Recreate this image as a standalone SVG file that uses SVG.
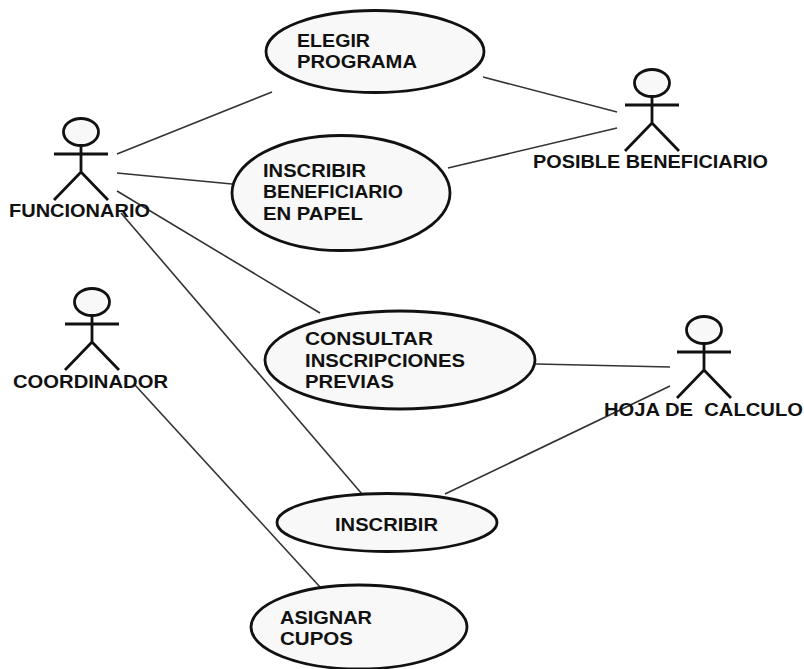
<svg xmlns="http://www.w3.org/2000/svg" width="804" height="669" viewBox="0 0 804 669">
<style>
.bg{fill:#fff}
.uc{fill:#f8f8f8;stroke:#111;stroke-width:2.8}
.c{stroke:#333;stroke-width:1.6;fill:none}
.a{fill:none;stroke:#111;stroke-width:2.8}
.h{fill:#f8f8f8;stroke:#111;stroke-width:2.8}
text{font-family:"Liberation Sans",Arial,sans-serif;font-weight:700;font-size:18.5px;fill:#111;white-space:pre}
</style>
<defs>
<g id="actor">
<ellipse class="h" cx="0" cy="0" rx="17.5" ry="13.5"/>
<path class="a" d="M0 14V40M-27 22H27M-27 68L0 40L27 68"/>
</g>
</defs>
<rect class="bg" width="804" height="669"/>
<g id="connectors">
<line class="c" x1="117" y1="154" x2="272" y2="92"/>
<line class="c" x1="117" y1="173" x2="232" y2="184"/>
<line class="c" x1="117" y1="191" x2="320" y2="313"/>
<line class="c" x1="121" y1="213" x2="362" y2="494"/>
<line class="c" x1="135" y1="385" x2="320" y2="587"/>
<line class="c" x1="483" y1="77" x2="617" y2="112"/>
<line class="c" x1="448" y1="168" x2="617" y2="128"/>
<line class="c" x1="536" y1="364" x2="670" y2="367"/>
<line class="c" x1="445" y1="494" x2="670" y2="386"/>
</g>
<g id="uc-elegir"><ellipse class="uc" cx="375" cy="51.5" rx="109" ry="41"/><text x="297" y="47" textLength="73" lengthAdjust="spacingAndGlyphs">ELEGIR</text><text x="297" y="68" textLength="120" lengthAdjust="spacingAndGlyphs">PROGRAMA</text></g>
<g id="uc-inscribir-papel"><ellipse class="uc" cx="341" cy="193" rx="109" ry="57.5"/><text x="263" y="177" textLength="103" lengthAdjust="spacingAndGlyphs">INSCRIBIR</text><text x="263" y="198" textLength="140" lengthAdjust="spacingAndGlyphs">BENEFICIARIO</text><text x="263" y="220" textLength="100" lengthAdjust="spacingAndGlyphs">EN PAPEL</text></g>
<g id="uc-consultar"><ellipse class="uc" cx="400" cy="360" rx="135" ry="49"/><text x="305" y="345" textLength="128" lengthAdjust="spacingAndGlyphs">CONSULTAR</text><text x="305" y="367" textLength="160" lengthAdjust="spacingAndGlyphs">INSCRIPCIONES</text><text x="305" y="388" textLength="89" lengthAdjust="spacingAndGlyphs">PREVIAS</text></g>
<g id="uc-inscribir"><ellipse class="uc" cx="387" cy="522.5" rx="110" ry="29"/><text x="335" y="531" textLength="103" lengthAdjust="spacingAndGlyphs">INSCRIBIR</text></g>
<g id="uc-asignar"><ellipse class="uc" cx="359" cy="627" rx="108" ry="42"/><text x="280" y="624" textLength="92" lengthAdjust="spacingAndGlyphs">ASIGNAR</text><text x="280" y="645" textLength="73" lengthAdjust="spacingAndGlyphs">CUPOS</text></g>
<g id="actor-funcionario"><use href="#actor" x="81" y="132"/><text x="9" y="217" textLength="141" lengthAdjust="spacingAndGlyphs">FUNCIONARIO</text></g>
<g id="actor-coordinador"><use href="#actor" x="92" y="302"/><text x="13" y="388" textLength="155" lengthAdjust="spacingAndGlyphs">COORDINADOR</text></g>
<g id="actor-beneficiario"><use href="#actor" x="652" y="83"/><text x="533" y="168" textLength="235" lengthAdjust="spacingAndGlyphs">POSIBLE BENEFICIARIO</text></g>
<g id="actor-hoja"><use href="#actor" x="704" y="330"/><text x="604" y="416" textLength="199" lengthAdjust="spacingAndGlyphs" xml:space="preserve">HOJA DE  CALCULO</text></g>
</svg>
